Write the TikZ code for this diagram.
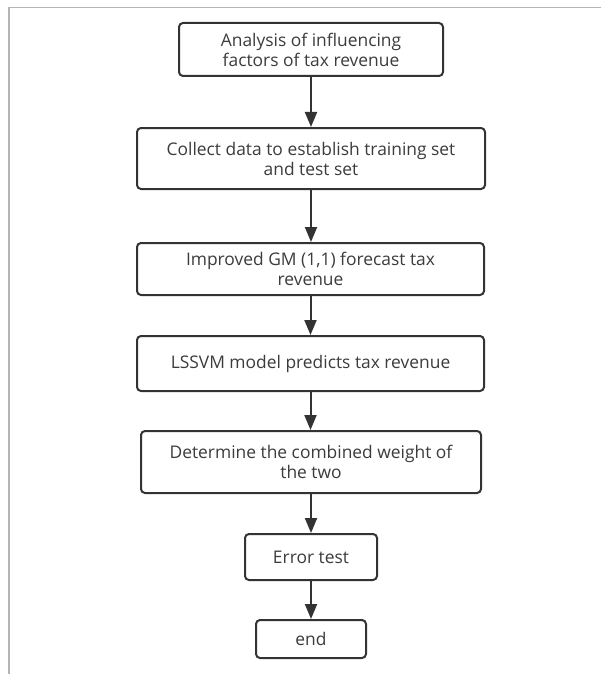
\documentclass[tikz,border=0pt]{standalone}
\usepackage{fontspec}
\setmainfont{Open Sans}
\usetikzlibrary{arrows.meta}
\definecolor{ink}{HTML}{333333}
\definecolor{txt}{HTML}{3C3C3C}
\definecolor{frame}{HTML}{B4B4B4}
\begin{document}
\begin{tikzpicture}[x=1pt,y=-1pt,
  box/.style={draw=ink,line width=2pt,rounded corners=4pt,fill=white,text=txt,
    align=center,font=\fontsize{17.4}{20}\selectfont,inner sep=0pt},
  flow/.style={draw=ink,line width=2pt,-{Triangle[length=15pt,width=12pt]}}]
\useasboundingbox (0,0) rectangle (601,674);
\draw[frame,line width=1.4pt] (9,674) -- (9,7.5) -- (601,7.5);
\node[box,minimum width=264pt,minimum height=53pt] (n1) at (311,49.5) {Analysis of influencing\\factors of tax revenue};
\node[box,minimum width=348pt,minimum height=61pt] (n2) at (311,158.5) {Collect data to establish training set\\and test set};
\node[box,minimum width=347pt,minimum height=52pt] (n3) at (310.5,269) {Improved GM (1,1) forecast tax\\revenue};
\node[box,minimum width=347pt,minimum height=55pt] (n4) at (310.5,363.5) {LSSVM model predicts tax revenue};
\node[box,minimum width=340pt,minimum height=62pt] (n5) at (311,462) {Determine the combined weight of\\the two};
\node[box,minimum width=132pt,minimum height=46pt] (n6) at (311,557) {Error test};
\node[box,minimum width=110pt,minimum height=38pt] (n7) at (311,639) {end};
\draw[flow] (n1.south) -- (n2.north);
\draw[flow] (n2.south) -- (n2.south |- n3.north);
\draw[flow] (n3.south) -- (n3.south |- n4.north);
\draw[flow] (n4.south) -- (n4.south |- n5.north);
\draw[flow] (n5.south) -- (n6.north);
\draw[flow] (n6.south) -- (n7.north);
\end{tikzpicture}
\end{document}
